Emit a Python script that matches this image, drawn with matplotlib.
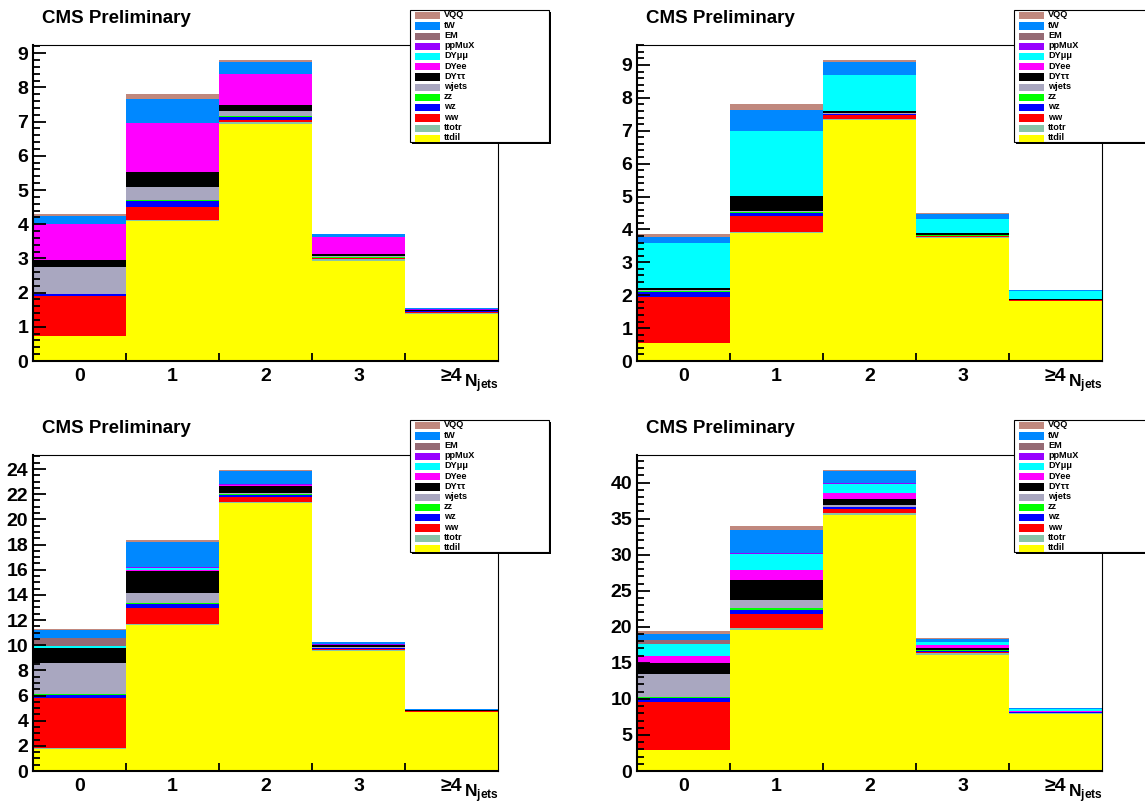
import matplotlib
matplotlib.use("Agg")
import matplotlib.pyplot as plt
from matplotlib.patches import Rectangle
from matplotlib.ticker import MultipleLocator, FixedLocator, FixedFormatter

plt.rcParams["font.family"] = ["Liberation Sans", "DejaVu Sans"]
plt.rcParams["mathtext.fontset"] = "custom"
plt.rcParams["mathtext.rm"] = "Liberation Sans"
plt.rcParams["mathtext.bf"] = "Liberation Sans:bold"

# jet-multiplicity bins
categories = ["0", "1", "2", "3", "≥4"]

# processes in stacking order (bottom to top)
processes = ["ttdil", "ttotr", "ww", "wz", "zz", "wjets", "DYττ", "DYee",
             "DYμμ", "ppMuX", "EM", "tW", "VQQ"]
colors = ["#FFFF00", "#88C4A8", "#FF0000", "#0000FF", "#00FF00", "#A9A7C0",
          "#000000", "#FF00FF", "#00FFFF", "#9900FF", "#956A74", "#0088FF",
          "#C0887E"]

# expected yields per bin, one row per process (same order as `processes`)
yields_top_left = [
    [0.72, 4.09, 6.92, 2.93, 1.38],
    [0.02, 0.04, 0.08, 0.05, 0.03],
    [1.15, 0.38, 0.06, 0.02, 0.02],
    [0.06, 0.16, 0.07, 0.02, 0.02],
    [0.01, 0.03, 0.02, 0.01, 0.01],
    [0.78, 0.39, 0.17, 0.03, 0.01],
    [0.22, 0.44, 0.18, 0.06, 0.02],
    [1.05, 1.43, 0.90, 0.50, 0.01],
    [0.00, 0.00, 0.00, 0.00, 0.00],
    [0.00, 0.00, 0.00, 0.00, 0.03],
    [0.00, 0.00, 0.00, 0.00, 0.00],
    [0.22, 0.70, 0.35, 0.08, 0.01],
    [0.07, 0.15, 0.05, 0.02, 0.00],
]

yields_top_right = [
    [0.55, 3.89, 7.33, 3.74, 1.82],
    [0.01, 0.02, 0.03, 0.02, 0.01],
    [1.39, 0.50, 0.12, 0.03, 0.01],
    [0.14, 0.09, 0.03, 0.02, 0.01],
    [0.05, 0.03, 0.01, 0.01, 0.00],
    [0.02, 0.02, 0.02, 0.01, 0.00],
    [0.05, 0.47, 0.06, 0.05, 0.02],
    [0.00, 0.00, 0.00, 0.00, 0.00],
    [1.39, 1.98, 1.09, 0.45, 0.26],
    [0.00, 0.00, 0.00, 0.00, 0.00],
    [0.00, 0.00, 0.00, 0.00, 0.00],
    [0.16, 0.63, 0.40, 0.14, 0.03],
    [0.09, 0.18, 0.06, 0.03, 0.00],
]

yields_bottom_left = [
    [1.77, 11.64, 21.27, 9.50, 4.65],
    [0.03, 0.05, 0.12, 0.12, 0.05],
    [3.98, 1.27, 0.38, 0.10, 0.04],
    [0.29, 0.34, 0.19, 0.04, 0.02],
    [0.03, 0.05, 0.04, 0.04, 0.01],
    [2.48, 0.79, 0.13, 0.04, 0.02],
    [1.18, 1.77, 0.56, 0.14, 0.05],
    [0.04, 0.08, 0.03, 0.02, 0.01],
    [0.12, 0.12, 0.03, 0.03, 0.01],
    [0.03, 0.12, 0.07, 0.03, 0.02],
    [0.66, 0.00, 0.00, 0.00, 0.00],
    [0.58, 1.98, 1.06, 0.20, 0.07],
    [0.08, 0.13, 0.04, 0.02, 0.00],
]

yields_bottom_right = [
    [2.87, 19.60, 35.51, 16.09, 7.90],
    [0.05, 0.19, 0.23, 0.23, 0.10],
    [6.60, 2.03, 0.60, 0.24, 0.08],
    [0.56, 0.56, 0.23, 0.10, 0.04],
    [0.14, 0.18, 0.05, 0.06, 0.02],
    [3.19, 1.20, 0.23, 0.10, 0.03],
    [1.57, 2.68, 0.83, 0.20, 0.08],
    [1.02, 1.39, 0.88, 0.41, 0.05],
    [1.57, 2.31, 1.25, 0.46, 0.30],
    [0.05, 0.10, 0.10, 0.05, 0.02],
    [0.60, 0.00, 0.00, 0.00, 0.00],
    [0.83, 3.23, 1.66, 0.42, 0.10],
    [0.32, 0.46, 0.18, 0.05, 0.02],
]

W, H = 1145, 805
fig = plt.figure(figsize=(W / 100, H / 100), dpi=100)
fig.patch.set_facecolor("white")


def px_axes(x0, y0, x1, y1, **kw):
    """Add axes from pixel box (top-left origin)."""
    return fig.add_axes([x0 / W, 1 - y1 / H, (x1 - x0) / W, (y1 - y0) / H], **kw)


def draw_stack(ax, table, major, minor):
    xs = list(range(len(categories)))
    bottom = [0.0] * len(categories)
    for row, col in zip(table, colors):
        ax.bar(xs, row, width=1.0, bottom=bottom, color=col, linewidth=0)
        bottom = [b + v for b, v in zip(bottom, row)]
    ax.set_xlim(-0.5, len(categories) - 0.5)
    ax.set_ylim(0, 1.05 * max(bottom))

    ax.xaxis.set_major_locator(FixedLocator(xs))
    ax.xaxis.set_major_formatter(FixedFormatter(categories))
    ax.xaxis.set_minor_locator(FixedLocator([x + 0.5 for x in xs[:-1]]))
    ax.yaxis.set_major_locator(MultipleLocator(major))
    ax.yaxis.set_minor_locator(MultipleLocator(minor))
    ax.yaxis.set_major_formatter(matplotlib.ticker.FormatStrFormatter("%g"))

    ax.tick_params(axis="x", which="major", length=0, pad=5,
                   labelsize=14)
    ax.tick_params(axis="x", which="minor", direction="in", length=6,
                   width=1.3, top=False)
    ax.tick_params(axis="y", which="major", direction="in", length=9.5,
                   width=1.3, pad=3.5, labelsize=14, right=False)
    ax.tick_params(axis="y", which="minor", direction="in", length=5,
                   width=1.3, right=False)
    for lab in ax.get_xticklabels() + ax.get_yticklabels():
        lab.set_fontweight("bold")
    ax.spines["left"].set_linewidth(1.5)
    ax.spines["bottom"].set_linewidth(1.5)
    ax.spines["top"].set_linewidth(0.8)
    ax.spines["right"].set_linewidth(0.8)


panels = [
    (yields_top_left, 0, 0, 1, 0.2),
    (yields_top_right, 604, 0, 1, 0.2),
    (yields_bottom_left, 0, 410, 2, 0.5),
    (yields_bottom_right, 604, 410, 5, 1),
]

for table, dx, dy, major, minor in panels:
    ax = px_axes(33 + dx, 45 + dy, 498 + dx, 361 + dy)
    draw_stack(ax, table, major, minor)

# overlay in pixel coordinates for titles, axis titles and legends
ov = fig.add_axes([0, 0, 1, 1], facecolor="none")
ov.set_xlim(0, W)
ov.set_ylim(H, 0)
ov.axis("off")

for dx, dy in [(0, 0), (604, 0), (0, 410), (604, 410)]:
    ov.text(42 + dx, 23 + dy, "CMS Preliminary", fontsize=13.5,
            fontweight="bold", va="baseline", ha="left")
    ov.text(464 + dx, 387 + dy, r"$\mathbf{N_{jets}}$", fontsize=12.5,
            va="baseline", ha="left")

    # legend box with shadow
    bx0, by0, bx1, by1 = 410 + dx, 10 + dy, 549 + dx, 142 + dy
    ov.add_patch(Rectangle((bx0 + 2, by0 + 2), bx1 - bx0, by1 - by0,
                           facecolor="black", edgecolor="none", zorder=5))
    ov.add_patch(Rectangle((bx0, by0), bx1 - bx0, by1 - by0,
                           facecolor="white", edgecolor="black",
                           linewidth=0.8, zorder=6))
    for i, (name, col) in enumerate(zip(processes[::-1], colors[::-1])):
        yc = by0 + 5.7 + 10.23 * i
        ov.add_patch(Rectangle((bx0 + 5, yc - 3.6), 25, 7.2, facecolor=col,
                               edgecolor="none", zorder=7))
        ov.text(bx0 + 34, yc - 0.8, name, fontsize=6.6, fontweight="bold",
                va="center", ha="left", zorder=8)

fig.savefig("out.png", dpi=100, facecolor="white")
